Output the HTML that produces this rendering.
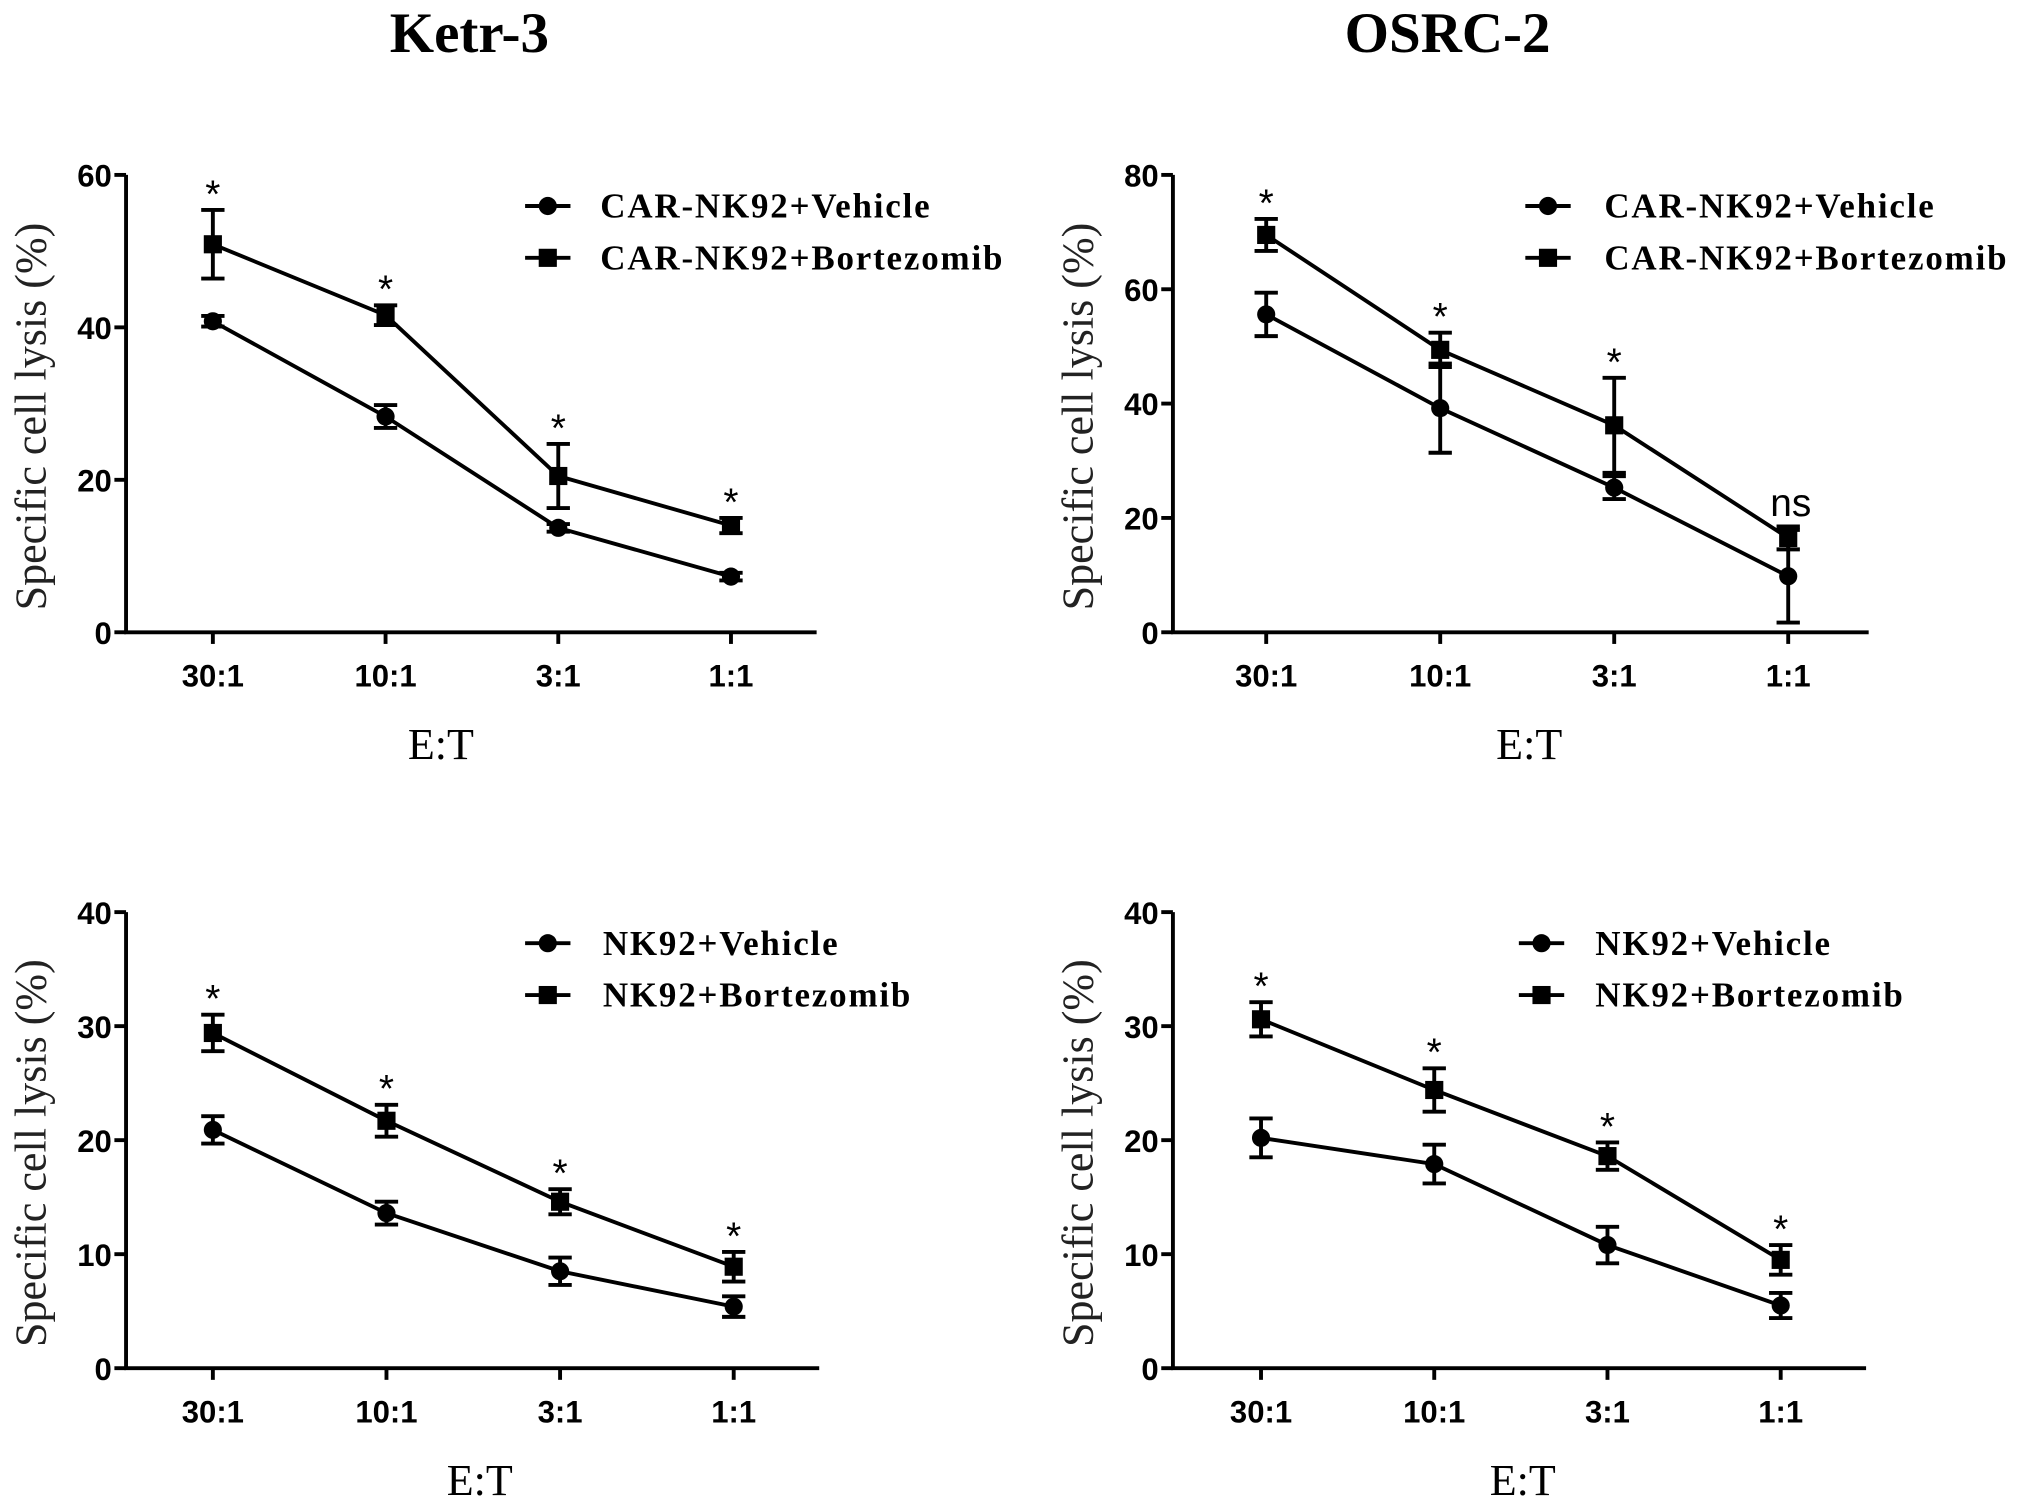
<!DOCTYPE html>
<html><head><meta charset="utf-8"><style>
html,body{margin:0;padding:0;background:#fff;}
svg{display:block;}
</style></head><body>
<svg id="fig" width="2031" height="1512" viewBox="0 0 1567 1167" xmlns="http://www.w3.org/2000/svg">
<rect width="1567" height="1167" fill="#fff"/>
<text x="362" y="40" text-anchor="middle" font-family="Liberation Serif, serif" font-weight="bold" font-size="44">Ketr-3</text>
<text x="1117" y="40" text-anchor="middle" font-family="Liberation Serif, serif" font-weight="bold" font-size="44">OSRC-2</text>
<g id="panels"></g>
</svg>
<script>
const categories = ["30:1","10:1","3:1","1:1"];
const aVeh = [40.8,28.3,13.7,7.3];   const aVehErr = [0.7,1.5,0.5,0.5];
const aBor = [50.9,41.6,20.5,14.0];  const aBorErr = [4.5,1.3,4.2,1.0];
const bVeh = [55.6,39.2,25.3,9.8];   const bVehErr = [3.8,7.8,2.0,8.1];
const bBor = [69.5,49.4,36.2,16.5];  const bBorErr = [2.8,3.0,8.3,2.0];
const cVeh = [20.9,13.6,8.5,5.4];    const cVehErr = [1.2,1.0,1.2,0.9];
const cBor = [29.4,21.7,14.6,8.9];   const cBorErr = [1.6,1.4,1.1,1.3];
const dVeh = [20.2,17.9,10.8,5.5];   const dVehErr = [1.7,1.7,1.6,1.1];
const dBor = [30.6,24.4,18.6,9.5];   const dBorErr = [1.5,1.9,1.2,1.3];
const aTicks = [0,20,40,60];
const bTicks = [0,20,40,60,80];
const cdTicks = [0,10,20,30,40];
const aSig = ["*","*","*","*"];
const bSig = ["*","*","*","ns"];
const cSig = ["*","*","*","*"];
const dSig = ["*","*","*","*"];

const NS="http://www.w3.org/2000/svg";
const root=document.getElementById('panels');
function mk(tag,attrs,parent,text){const e=document.createElementNS(NS,tag);for(const k in attrs)e.setAttribute(k,attrs[k]);if(text!==undefined)e.textContent=text;(parent||root).appendChild(e);return e;}

function panel(cfg){
  const g=mk('g',{});
  
  
  const {x0,x1,yTop,yBot,max,xs}=cfg;
  const yS=v=>yBot-(v/max)*(yBot-yTop);
  const xS=i=>xs[0]+i*(xs[1]-xs[0]);
  const ya=mk('line',{x1:x0,y1:yTop,x2:x0,y2:yBot,stroke:'#000','stroke-width':3},g);
  
  
  const xa=mk('line',{x1:x0-1.5,y1:yBot,x2:x1,y2:yBot,stroke:'#000','stroke-width':3},g);
  
  
  cfg.ticks.forEach(t=>{
    const y=yS(t);
    mk('line',{x1:x0-9,y1:y,x2:x0,y2:y,stroke:'#000','stroke-width':3},g);
    const tl=mk('text',{x:x0-11,y:y+9,'text-anchor':'end','font-family':'Liberation Sans, sans-serif','font-weight':'bold','font-size':24},g,String(t));
    
    
  });
  categories.forEach((c,i)=>{
    const x=xS(i);
    mk('line',{x1:x,y1:yBot,x2:x,y2:yBot+9,stroke:'#000','stroke-width':3},g);
    const tl=mk('text',{x:x,y:yBot+42,'text-anchor':'middle','font-family':'Liberation Sans, sans-serif','font-weight':'bold','font-size':24},g,c);
    
    
  });
  const xt=mk('text',{x:cfg.etx,y:yBot+98,'text-anchor':'middle','font-family':'Liberation Serif, serif','font-size':34},g,'E:T');
  
  
  const cy=(yTop+yBot)/2+10;
  const yt=mk('text',{x:0,y:0,transform:`translate(${x0-62},${cy}) rotate(-90)`,'text-anchor':'middle','font-family':'Liberation Serif, serif','font-size':34,fill:'#222'},g,'Specific cell lysis (%)');
  
  
  function series(vals,errs,square,nm){
    const sg=mk('g',{},g);
    
    
    mk('polyline',{points:vals.map((v,i)=>xS(i)+','+yS(v)).join(' '),fill:'none',stroke:'#000','stroke-width':3},sg);
    vals.forEach((v,i)=>{
      const x=xS(i),yh=yS(v+errs[i]),yl=yS(v-errs[i]);
      mk('line',{x1:x,y1:yh,x2:x,y2:yl,stroke:'#000','stroke-width':3},sg);
      mk('line',{x1:x-9,y1:yh,x2:x+9,y2:yh,stroke:'#000','stroke-width':3},sg);
      mk('line',{x1:x-9,y1:yl,x2:x+9,y2:yl,stroke:'#000','stroke-width':3},sg);
      let m;
      if(square) m=mk('rect',{x:x-7,y:yS(v)-7,width:14,height:14,fill:'#000'},sg);
      else m=mk('circle',{cx:x,cy:yS(v),r:7,fill:'#000'},sg);
      
      
    });
  }
  series(cfg.veh,cfg.vehErr,false,'vehicle-series');
  series(cfg.bor,cfg.borErr,true,'bortezomib-series');
  cfg.sig.forEach((s,i)=>{
    const top=yS(Math.max(cfg.bor[i]+cfg.borErr[i],cfg.veh[i]+cfg.vehErr[i]));
    const ns=s==='ns';
    const t=mk('text',{x:xS(i)+(ns?2:0),y:ns?top-8:top-2,'text-anchor':'middle','font-family':'Liberation Sans, sans-serif','font-size':30},g,s);
    
    
  });
  const lg=mk('g',{},g);
  
  
  [[cfg.l1,false,0],[cfg.l2,true,40]].forEach(([lab,sq,dy])=>{
    const y=cfg.ly+dy;
    mk('line',{x1:cfg.lx,y1:y,x2:cfg.lx+35,y2:y,stroke:'#000','stroke-width':3},lg);
    if(sq) mk('rect',{x:cfg.lx+10.5,y:y-7,width:14,height:14,fill:'#000'},lg);
    else mk('circle',{cx:cfg.lx+17.5,cy:y,r:7,fill:'#000'},lg);
    const t=mk('text',{x:cfg.tx,y:y+9,'font-family':'Liberation Serif, serif','font-weight':'bold','font-size':27,'letter-spacing':'1.4'},lg,lab);
    
    
  });
}
panel({name:'panel-ketr3-car',x0:97,x1:630,yTop:135,yBot:488,max:60,ticks:aTicks,xs:[164,297.3],etx:340,veh:aVeh,vehErr:aVehErr,bor:aBor,borErr:aBorErr,sig:aSig,lx:405,ly:159,tx:463,l1:'CAR-NK92+Vehicle',l2:'CAR-NK92+Bortezomib'});
panel({name:'panel-osrc2-car',x0:905,x1:1442,yTop:135,yBot:488,max:80,ticks:bTicks,xs:[977,1111.3],etx:1180,veh:bVeh,vehErr:bVehErr,bor:bBor,borErr:bBorErr,sig:bSig,lx:1177,ly:159,tx:1238,l1:'CAR-NK92+Vehicle',l2:'CAR-NK92+Bortezomib'});
panel({name:'panel-ketr3-nk92',x0:97,x1:632,yTop:704,yBot:1056,max:40,ticks:cdTicks,xs:[164,298],etx:370,veh:cVeh,vehErr:cVehErr,bor:cBor,borErr:cBorErr,sig:cSig,lx:405,ly:728,tx:465,l1:'NK92+Vehicle',l2:'NK92+Bortezomib'});
panel({name:'panel-osrc2-nk92',x0:905,x1:1440,yTop:704,yBot:1056,max:40,ticks:cdTicks,xs:[973,1106.7],etx:1175,veh:dVeh,vehErr:dVehErr,bor:dBor,borErr:dBorErr,sig:dSig,lx:1172,ly:728,tx:1231,l1:'NK92+Vehicle',l2:'NK92+Bortezomib'});
</script>
</body></html>
